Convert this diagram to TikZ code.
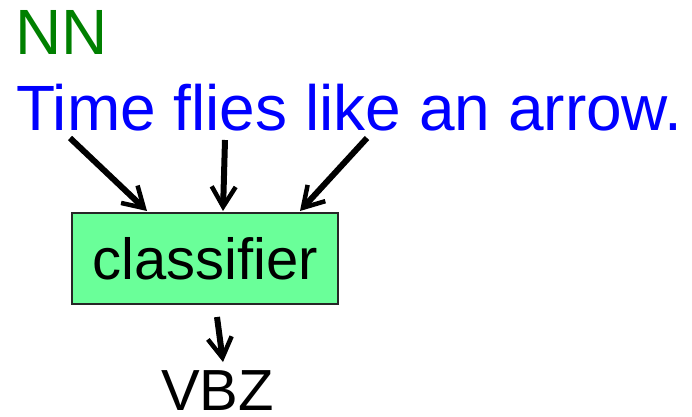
\documentclass[tikz,border=0pt]{standalone}
\usepackage{fontspec}
\setmainfont{Liberation Sans}
\usetikzlibrary{arrows.meta}
\definecolor{taggreen}{RGB}{0,128,0}
\definecolor{wordblue}{RGB}{0,0,255}
\definecolor{boxgreen}{RGB}{106,255,153}
\begin{document}
\begin{tikzpicture}[x=1pt,y=-1pt,
  bigtext/.style={anchor=base west, inner sep=0pt, font=\fontsize{64}{64}\selectfont},
  labeltext/.style={anchor=base west, inner sep=0pt, font=\fontsize{58}{58}\selectfont},
  classbox/.style={draw=black!85, line width=2pt, fill=boxgreen,
    minimum width=266pt, minimum height=91pt, inner sep=0pt,
    font=\fontsize{58}{58}\selectfont},
  feed/.style={line width=6pt, -{Straight Barb[length=20pt,width=24pt,line width=4.5pt]}}]
  \useasboundingbox (0,0) rectangle (692,416);

  % predicted tag and input sentence
  \node[bigtext, text=taggreen] (tag) at (15,54) {NN};
  \node[bigtext, text=wordblue] (sentence) at (16,130) {Time flies like an arrow.};

  % classifier and its output
  \node[classbox] (cls) at (205,258.5) {classifier};
  \node[labeltext] (out) at (161,410) {VBZ};

  % word anchors under the sentence and entry points on the box
  \coordinate (w1) at (70,138);
  \coordinate (w2) at (225,140);
  \coordinate (w3) at (367,138);
  \coordinate (in1) at (147,211);
  \coordinate (in2) at (223,211);
  \coordinate (in3) at (300,211);
  \coordinate (c1) at (217,317);
  \coordinate (o1) at (223,362);

  \draw[feed] (w1) -- (in1);
  \draw[feed] (w2) -- (in2);
  \draw[feed] (w3) -- (in3);
  \draw[feed] (c1) -- (o1);
\end{tikzpicture}
\end{document}
